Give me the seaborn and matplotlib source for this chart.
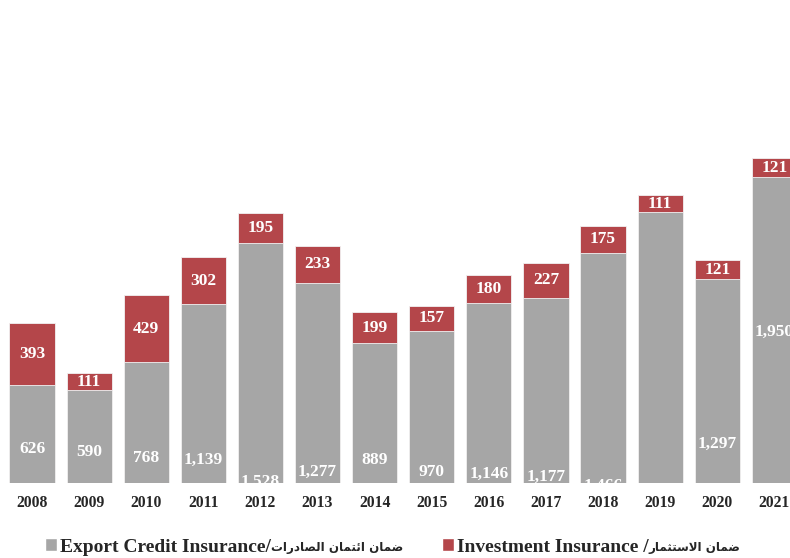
import pandas as pd
import seaborn as sns
import matplotlib.pyplot as plt
from matplotlib.patches import Patch

# data
years = ["2008", "2009", "2010", "2011", "2012", "2013", "2014",
         "2015", "2016", "2017", "2018", "2019", "2020", "2021"]
export_credit = [626, 590, 768, 1139, 1528, 1277, 889,
                 970, 1146, 1177, 1466, 1725, 1297, 1950]
investment = [393, 111, 429, 302, 195, 233, 199,
              157, 180, 227, 175, 111, 121, 121]

# where the gray-segment value labels sit (data units, as in the reference);
# None = label not visible
gray_label_y = [215, 196, 158, 148, 8, 68, 145,
                70, 56, 34, -18, None, 247, 962]

GRAY = "#a6a6a6"
RED = "#b4464a"

# ---- minimal Arabic shaping (presentation forms) for the legend texts ----
# isolated, final, initial, medial
FORMS = {
    "ا": ("\uFE8D", "\uFE8E", None, None),
    "ئ": ("\uFE89", "\uFE8A", "\uFE8B", "\uFE8C"),
    "ت": ("\uFE95", "\uFE96", "\uFE97", "\uFE98"),
    "ث": ("\uFE99", "\uFE9A", "\uFE9B", "\uFE9C"),
    "د": ("\uFEA9", "\uFEAA", None, None),
    "ر": ("\uFEAD", "\uFEAE", None, None),
    "س": ("\uFEB1", "\uFEB2", "\uFEB3", "\uFEB4"),
    "ص": ("\uFEB9", "\uFEBA", "\uFEBB", "\uFEBC"),
    "ض": ("\uFEBD", "\uFEBE", "\uFEBF", "\uFEC0"),
    "ل": ("\uFEDD", "\uFEDE", "\uFEDF", "\uFEE0"),
    "م": ("\uFEE1", "\uFEE2", "\uFEE3", "\uFEE4"),
    "ن": ("\uFEE5", "\uFEE6", "\uFEE7", "\uFEE8"),
    "LA": ("\uFEFB", "\uFEFC", None, None),
}


def shape_arabic(text):
    chars = []
    i = 0
    while i < len(text):
        if text[i] == "ل" and i + 1 < len(text) and text[i + 1] == "ا":
            chars.append("LA")
            i += 2
        else:
            chars.append(text[i])
            i += 1
    out = []
    for k, c in enumerate(chars):
        if c not in FORMS:
            out.append(c)
            continue
        prev = chars[k - 1] if k > 0 else None
        nxt = chars[k + 1] if k + 1 < len(chars) else None
        join_prev = prev in FORMS and FORMS[prev][2] is not None
        join_next = nxt in FORMS and FORMS[c][2] is not None
        iso, fin, ini, med = FORMS[c]
        if join_prev and join_next:
            out.append(med)
        elif join_prev:
            out.append(fin)
        elif join_next:
            out.append(ini)
        else:
            out.append(iso)
    # matplotlib lays text out left-to-right, so reverse for visual order
    return "".join(out)[::-1]


legend_latin = ["Export Credit Insurance/", "Investment Insurance /"]
legend_arabic = [shape_arabic("ضمان ائتمان الصادرات"), shape_arabic("ضمان الاستثمار")]

df = pd.DataFrame({"year": years, "export": export_credit, "invest": investment})
df["total"] = df["export"] + df["invest"]

sns.set_theme(style="white")
plt.rcParams["font.family"] = ["Liberation Serif", "DejaVu Sans"]

fig = plt.figure(figsize=(7.9, 5.58), dpi=100)
ax = fig.add_axes([3.5 / 790, 1 - 482.7 / 558, 799.4 / 790, 482.7 / 558])

sns.barplot(data=df, x="year", y="total", order=years, color=RED, saturation=1,
            width=0.79, edgecolor="#f2f2f2", linewidth=0.6, ax=ax)
sns.barplot(data=df, x="year", y="export", order=years, color=GRAY, saturation=1,
            width=0.79, edgecolor="#f2f2f2", linewidth=0.6, ax=ax)

ax.set_ylim(0, 3080)
ax.set_xlim(-0.5, len(years) - 0.5)
ax.set_xlabel("")
ax.set_ylabel("")
ax.set_yticks([])
ax.tick_params(axis="x", length=0, pad=9)
for lbl in ax.get_xticklabels():
    lbl.set_fontsize(11.3)
    lbl.set_fontweight("bold")
sns.despine(ax=ax, left=True, bottom=True)

# value labels
for i, row in df.iterrows():
    ax.text(i, row["export"] + row["invest"] / 2, f"{row['invest']:,}",
            ha="center", va="center", color="white", fontsize=12.5,
            fontweight="bold", clip_on=True)
    if gray_label_y[i] is not None:
        ax.text(i, gray_label_y[i], f"{row['export']:,}",
                ha="center", va="center", color="white", fontsize=12.5,
                fontweight="bold", clip_on=True)

handles = [Patch(facecolor=GRAY, label=legend_latin[0]),
           Patch(facecolor=RED, label=legend_latin[1])]
leg = fig.legend(handles=handles, loc="center left",
                 bbox_to_anchor=(37 / 790, 1 - 547 / 558),
                 ncol=2, frameon=False, prop={"weight": "bold", "size": 14},
                 handlelength=0.62, handleheight=0.62, handletextpad=0.15,
                 columnspacing=8.8, borderaxespad=0)

# Arabic half of each legend label, set right after the Latin text
fig.canvas.draw()
inv = fig.transFigure.inverted()
for txt, ar in zip(leg.get_texts(), legend_arabic):
    bb = txt.get_window_extent()
    x0, y0 = inv.transform((bb.x1, (bb.y0 + bb.y1) / 2))
    fig.text(x0, y0, ar, ha="left", va="center", fontsize=8.6,
             fontweight="bold", family="DejaVu Sans")

fig.savefig("out.png", dpi=100)
